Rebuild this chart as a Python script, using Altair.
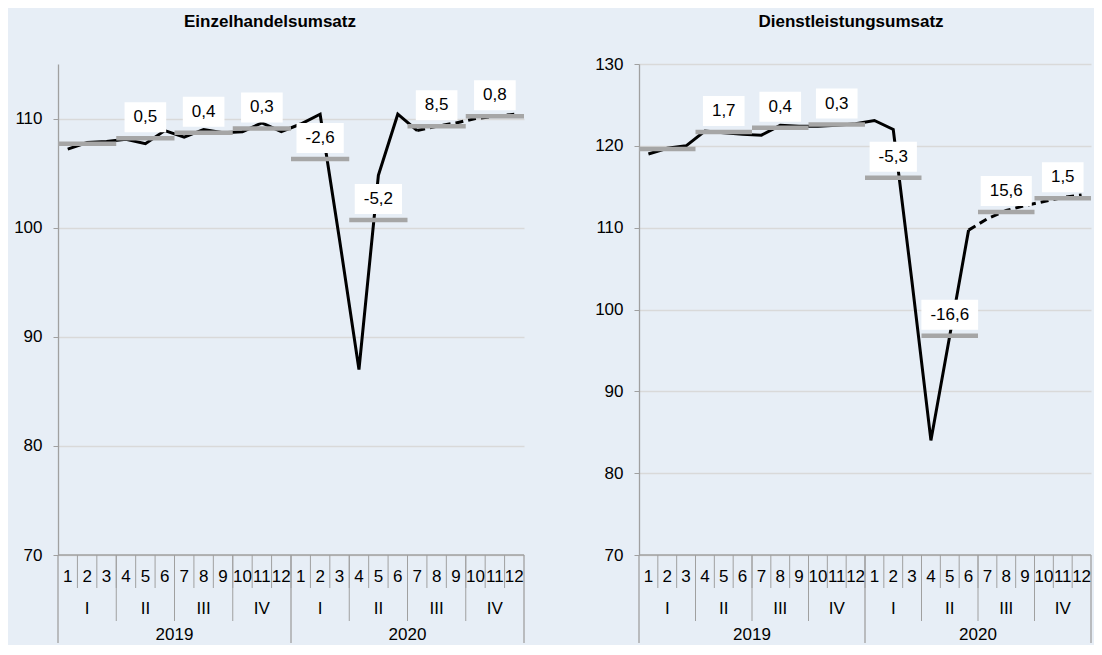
import altair as alt
import pandas as pd

# ---------------- data ----------------
month_labels = ["1", "2", "3", "4", "5", "6", "7", "8", "9", "10", "11", "12",
                "1", "2", "3", "4", "5", "6", "7", "8", "9", "10", "11", "12"]
quarter_labels = ["I", "II", "III", "IV", "I", "II", "III", "IV"]
year_labels = ["2019", "2020"]

retail_title = "Einzelhandelsumsatz"
retail_values = [107.2, 107.8, 107.9, 108.1, 107.7, 108.9, 108.3, 109.0, 108.7, 108.8, 109.6, 108.8,
                 109.5, 110.4, 98.9, 87.0, 104.8, 110.4, 108.9, 109.3, 109.6, 110.0, 110.2, 110.4]
retail_quarter = [107.7, 108.2, 108.7, 109.1, 106.3, 100.7, 109.3, 110.2]
retail_change = ["", "0,5", "0,4", "0,3", "-2,6", "-5,2", "8,5", "0,8"]
retail_solid_months = 19

service_title = "Dienstleistungsumsatz"
service_values = [119.0, 119.7, 120.0, 121.8, 121.6, 121.4, 121.3, 122.5, 122.4, 122.4, 122.5, 122.7,
                  123.1, 122.0, 103.3, 84.0, 96.8, 109.7, 111.1, 112.1, 112.7, 113.2, 113.7, 114.0]
service_quarter = [119.6, 121.7, 122.2, 122.6, 116.1, 96.8, 111.9, 113.6]
service_change = ["", "1,7", "0,4", "0,3", "-5,3", "-16,6", "15,6", "1,5"]
service_solid_months = 18

# ---------------- style ----------------
FONT = "Liberation Sans"
FS = 17
BG = "#E7EEF6"
AXIS_GRAY = "#A0A0A0"
GRID = "#D9D9D9"
BAR_GRAY = "#A6A6A6"
H = 491


def panel(title, values, qvals, qchg, ymax, width, solid_n):
    ppm = width / 24.0
    xs = alt.Scale(domain=[0, 24], nice=False, zero=False)
    ys = alt.Scale(domain=[70, ymax], nice=False, zero=False)
    yaxis = alt.Axis(values=list(range(70, ymax + 1, 10)), grid=True, gridColor=GRID, gridWidth=1.3,
                     domainColor=AXIS_GRAY, domainWidth=1.3, tickColor=AXIS_GRAY, tickSize=5,
                     labelFont=FONT, labelFontSize=FS, labelColor="black", labelPadding=11,
                     minExtent=49)

    line_df = pd.DataFrame({"pos": [i + 0.5 for i in range(24)], "value": values})
    solid_df = line_df.iloc[:solid_n]
    dashed_df = line_df.iloc[solid_n - 1:]

    q_df = pd.DataFrame({
        "qs": [3 * i for i in range(8)],
        "qe": [3 * i + 3 for i in range(8)],
        "qc": [3 * i + 1.5 for i in range(8)],
        "value": qvals,
        "label": qchg,
    })
    lab_df = q_df[q_df["label"] != ""]

    def Y(field="value"):
        return alt.Y(f"{field}:Q", scale=ys, axis=yaxis, title=None)

    def X(field):
        return alt.X(f"{field}:Q", scale=xs, axis=None)

    solid = alt.Chart(solid_df).mark_line(color="black", strokeWidth=3).encode(x=X("pos"), y=Y())
    dashed = alt.Chart(dashed_df).mark_line(color="black", strokeWidth=3, strokeDash=[8, 5]).encode(
        x=X("pos"), y=Y())
    bars = alt.Chart(q_df).mark_rule(color=BAR_GRAY, strokeWidth=4.5).encode(
        x=X("qs"), x2="qe:Q", y=Y())
    boxes = alt.Chart(lab_df).transform_calculate(
        hw="(9 + 0.5*(9.45*(length(datum.label)-1)+4.73) - (indexof(datum.label,'-')>=0 ? 1.9 : 0)) / " + str(ppm)
    ).transform_calculate(
        bx1="datum.qc - datum.hw", bx2="datum.qc + datum.hw"
    ).mark_rect(color="white", yOffset=-36, y2Offset=-6).encode(
        x=X("bx1"), x2="bx2:Q", y=Y(), y2="value:Q")
    texts = alt.Chart(lab_df).mark_text(font=FONT, fontSize=FS, color="black", baseline="middle",
                                        align="center", dy=-21).encode(
        x=X("qc"), y=Y(), text="label:N")

    # category axis (month / quarter / year)
    base_df = pd.DataFrame({"a": [0], "b": [24]})
    baseline = alt.Chart(base_df).mark_rule(color=AXIS_GRAY, strokeWidth=1.3).encode(
        x=X("a"), x2="b:Q", y=alt.value(H))
    msep_df = pd.DataFrame({"p": [i for i in range(1, 24)]})
    msep = alt.Chart(msep_df).mark_rule(color=AXIS_GRAY, strokeWidth=1).encode(
        x=X("p"), y=alt.value(H), y2=alt.value(H + 33))
    qsep_df = pd.DataFrame({"p": [3, 6, 9, 15, 18, 21]})
    qsep = alt.Chart(qsep_df).mark_rule(color=AXIS_GRAY, strokeWidth=1).encode(
        x=X("p"), y=alt.value(H), y2=alt.value(H + 66))
    ysep_df = pd.DataFrame({"p": [0, 12, 24]})
    ysep = alt.Chart(ysep_df).mark_rule(color=AXIS_GRAY, strokeWidth=1.3).encode(
        x=X("p"), y=alt.value(H), y2=alt.value(H + 88))

    mtext_df = pd.DataFrame({"p": [i + 0.5 for i in range(24)], "t": month_labels})
    mtext = alt.Chart(mtext_df).mark_text(font=FONT, fontSize=FS, color="black", baseline="middle").encode(
        x=X("p"), y=alt.value(H + 22), text="t:N")
    qtext_df = pd.DataFrame({"p": [3 * i + 1.5 for i in range(8)], "t": quarter_labels})
    qtext = alt.Chart(qtext_df).mark_text(font=FONT, fontSize=FS, color="black", baseline="middle").encode(
        x=X("p"), y=alt.value(H + 54), text="t:N")
    ytext_df = pd.DataFrame({"p": [6, 18], "t": year_labels})
    ytext = alt.Chart(ytext_df).mark_text(font=FONT, fontSize=FS, color="black", baseline="middle").encode(
        x=X("p"), y=alt.value(H + 80), text="t:N")

    title_df = pd.DataFrame({"t": [title]})
    ttl = alt.Chart(title_df).mark_text(font=FONT, fontSize=17, fontWeight="bold", color="black",
                                        baseline="alphabetic", align="center").encode(
        x=alt.value(212), y=alt.value(-37), text="t:N")

    return alt.layer(solid, dashed, bars, boxes, texts, baseline, msep, qsep, ysep,
                     mtext, qtext, ytext, ttl).properties(width=width, height=H)


left = panel(retail_title, retail_values, retail_quarter, retail_change, 115, 466, retail_solid_months)
right = panel(service_title, service_values, service_quarter, service_change, 130, 452, service_solid_months)

chart = alt.hconcat(left, right, spacing=62).properties(
    padding={"top": 4, "left": 0, "right": 0, "bottom": 0}
).configure(background=BG).configure_view(stroke="transparent")

chart.save("out.html", embed_options={"renderer": "svg", "actions": False})
